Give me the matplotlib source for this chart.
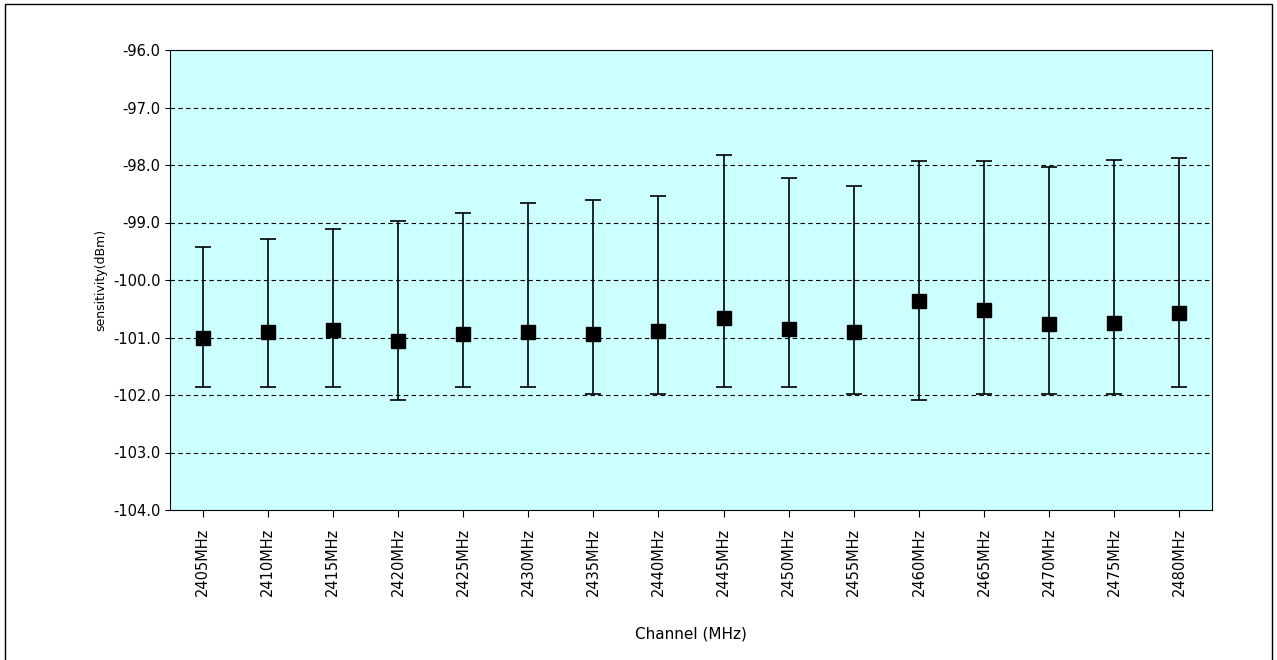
import matplotlib
matplotlib.use("Agg")
import matplotlib.pyplot as plt
from matplotlib.patches import Rectangle

channels = ["2405MHz","2410MHz","2415MHz","2420MHz","2425MHz","2430MHz","2435MHz","2440MHz",
            "2445MHz","2450MHz","2455MHz","2460MHz","2465MHz","2470MHz","2475MHz","2480MHz"]
mean_vals = [-101.0,-100.9,-100.87,-101.06,-100.94,-100.9,-100.94,-100.89,
             -100.66,-100.85,-100.9,-100.37,-100.52,-100.77,-100.75,-100.57]
max_vals = [-99.43,-99.29,-99.11,-98.97,-98.83,-98.66,-98.6,-98.54,
            -97.83,-98.23,-98.37,-97.93,-97.93,-98.03,-97.91,-97.88]
min_vals = [-101.86,-101.86,-101.86,-102.09,-101.86,-101.86,-101.98,-101.98,
            -101.86,-101.86,-101.98,-102.09,-101.98,-101.98,-101.98,-101.86]

fig = plt.figure(figsize=(12.77,6.6), dpi=100)
fig.patches.append(Rectangle((0.004,-0.01),0.992,1.004,transform=fig.transFigure,fill=False,ec='black',lw=1))
ax = fig.add_axes([170/1277, 1-510/660, (1212-170)/1277, 460/660])
ax.set_facecolor('#CCFFFF')
x = list(range(len(channels)))
yerr = [[m-lo for m,lo in zip(mean_vals,min_vals)],[hi-m for m,hi in zip(mean_vals,max_vals)]]
ax.errorbar(x, mean_vals, yerr=yerr, fmt='s', color='black', ms=10, capsize=6, elinewidth=1.2, capthick=1.2, zorder=3)
ax.set_ylim(-104,-96)
ax.set_xlim(-0.5,len(channels)-0.5)
ax.set_yticks([-104+i for i in range(9)])
ax.set_yticklabels([f"{v:.1f}" for v in range(-104,-95)], fontsize=10.5)
for v in range(-103,-96):
    ax.axhline(v, color='black', ls=(0,(4,3)), lw=0.8, zorder=1)
ax.set_xticks(x)
ax.set_xticklabels(channels, rotation=90, fontsize=10.5)
ax.set_xlabel("Channel (MHz)", fontsize=11, labelpad=22)
ax.set_ylabel("sensitivity(dBm)", fontsize=9)
for s in ax.spines.values():
    s.set_color('black'); s.set_linewidth(0.8)
ax.tick_params(axis='x', length=5, pad=8)
fig.savefig("out.png", dpi=100)
